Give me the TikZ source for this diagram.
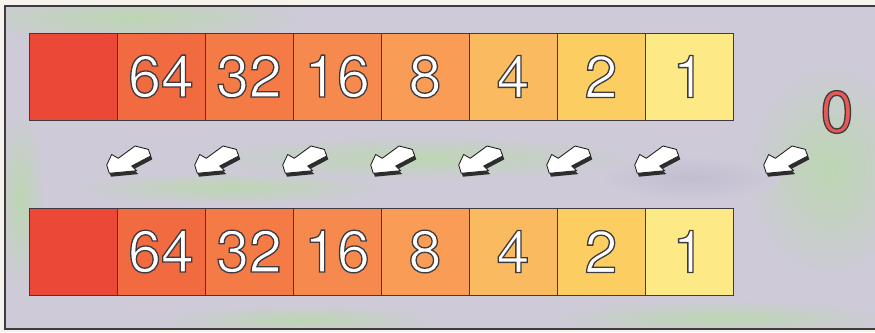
\documentclass[tikz,border=0pt]{standalone}
\usepackage{fontspec}
\setmainfont{TeX Gyre Heros}
\definecolor{bgpaper}{RGB}{246,243,236}
\definecolor{bgfill}{RGB}{206,202,216}
\definecolor{bggreen}{RGB}{188,214,178}
\definecolor{bgdark}{RGB}{194,188,208}
\definecolor{c0}{RGB}{236,72,56}
\definecolor{c1}{RGB}{241,106,64}
\definecolor{c2}{RGB}{244,122,70}
\definecolor{c3}{RGB}{246,138,78}
\definecolor{c4}{RGB}{248,156,86}
\definecolor{c5}{RGB}{250,186,96}
\definecolor{c6}{RGB}{252,206,98}
\definecolor{c7}{RGB}{253,234,134}
\definecolor{edge}{RGB}{62,58,64}
\definecolor{zred}{RGB}{232,88,84}
% fill-and-stroke text: #1 fill colour, #2 text
\newcommand{\otext}[2]{\textcolor{#1}{\special{pdf:literal direct 2 Tr 1.3 w 0.24 0.23 0.25 RG}#2\special{pdf:literal direct 0 Tr}}}
\tikzset{
  cell/.style={draw=edge, line width=0.8pt, minimum width=88pt, minimum height=87pt,
    inner sep=0pt, outer sep=0pt, anchor=north west, font=\fontsize{59}{59}\selectfont},
  bignum/.style={inner sep=0pt, font=\fontsize{59}{59}\selectfont},
  fatarrow/.pic={
    \begin{scope}[shift={(1.6,3.4)}]
      \fill[black!82] (-18.3,-7.5) -- (-11.7,-3.7) -- (5,-16) -- (18.3,-12.7) -- (20.7,-6)
        -- (1.7,4) -- (6.7,8.7) -- (-20.7,11.3) -- (-23.3,3) -- cycle;
    \end{scope}
    \filldraw[fill=white, draw=black!85, line width=0.9pt, line join=round]
      (-18.3,-7.5) -- (-11.7,-3.7) -- (5,-16) -- (18.3,-12.7) -- (20.7,-6)
      -- (1.7,4) -- (6.7,8.7) -- (-20.7,11.3) -- (-23.3,3) -- cycle;
  }
}
\begin{document}
\begin{tikzpicture}[x=1pt,y=-1pt]
\useasboundingbox (0,0) rectangle (875,332);
\fill[bgpaper] (0,0) rectangle (875,332);
\fill[bgfill] (5,6) rectangle (875,329);
\begin{scope}
  \clip (5,6) rectangle (875,329);
  \shade[inner color=bggreen, outer color=bgfill] (130,18) ellipse [x radius=180, y radius=26];
  \shade[inner color=bggreen, outer color=bgfill] (420,158) ellipse [x radius=220, y radius=22];
  \shade[inner color=bggreen, outer color=bgfill] (230,188) ellipse [x radius=160, y radius=16];
  \shade[inner color=bggreen, outer color=bgfill] (830,170) ellipse [x radius=85, y radius=110];
  \shade[inner color=bggreen, outer color=bgfill] (720,318) ellipse [x radius=170, y radius=18];
  \shade[inner color=bggreen, outer color=bgfill] (300,320) ellipse [x radius=140, y radius=14];
  \shade[inner color=bggreen, outer color=bgfill] (20,200) ellipse [x radius=25, y radius=90];
  \shade[inner color=bgdark, outer color=bgfill] (690,178) ellipse [x radius=90, y radius=22];
\end{scope}
\draw[edge, line width=1.5pt] (876,6) -- (5,6) -- (5,329) -- (876,329);

% top row
\node[cell, fill=c0] (t0) at (29,33) {};
\node[cell, fill=c1] (t1) at (117,33) {\otext{white}{64}};
\node[cell, fill=c2] (t2) at (205,33) {\otext{white}{32}};
\node[cell, fill=c3] (t3) at (293,33) {\otext{white}{16}};
\node[cell, fill=c4] (t4) at (381,33) {\otext{white}{8}};
\node[cell, fill=c5] (t5) at (469,33) {\otext{white}{4}};
\node[cell, fill=c6] (t6) at (557,33) {\otext{white}{2}};
\node[cell, fill=c7] (t7) at (645,33) {\otext{white}{1}};

% bottom row
\node[cell, fill=c0] (b0) at (29,208) {};
\node[cell, fill=c1] (b1) at (117,208) {\otext{white}{64}};
\node[cell, fill=c2] (b2) at (205,208) {\otext{white}{32}};
\node[cell, fill=c3] (b3) at (293,208) {\otext{white}{16}};
\node[cell, fill=c4] (b4) at (381,208) {\otext{white}{8}};
\node[cell, fill=c5] (b5) at (469,208) {\otext{white}{4}};
\node[cell, fill=c6] (b6) at (557,208) {\otext{white}{2}};
\node[cell, fill=c7] (b7) at (645,208) {\otext{white}{1}};

\node[bignum] (zero) at (837,112) {\otext{zred}{0}};

\foreach \ax in {130,218,306,394,482,570,658,787}
  \pic at (\ax,162) {fatarrow};
\end{tikzpicture}
\end{document}
